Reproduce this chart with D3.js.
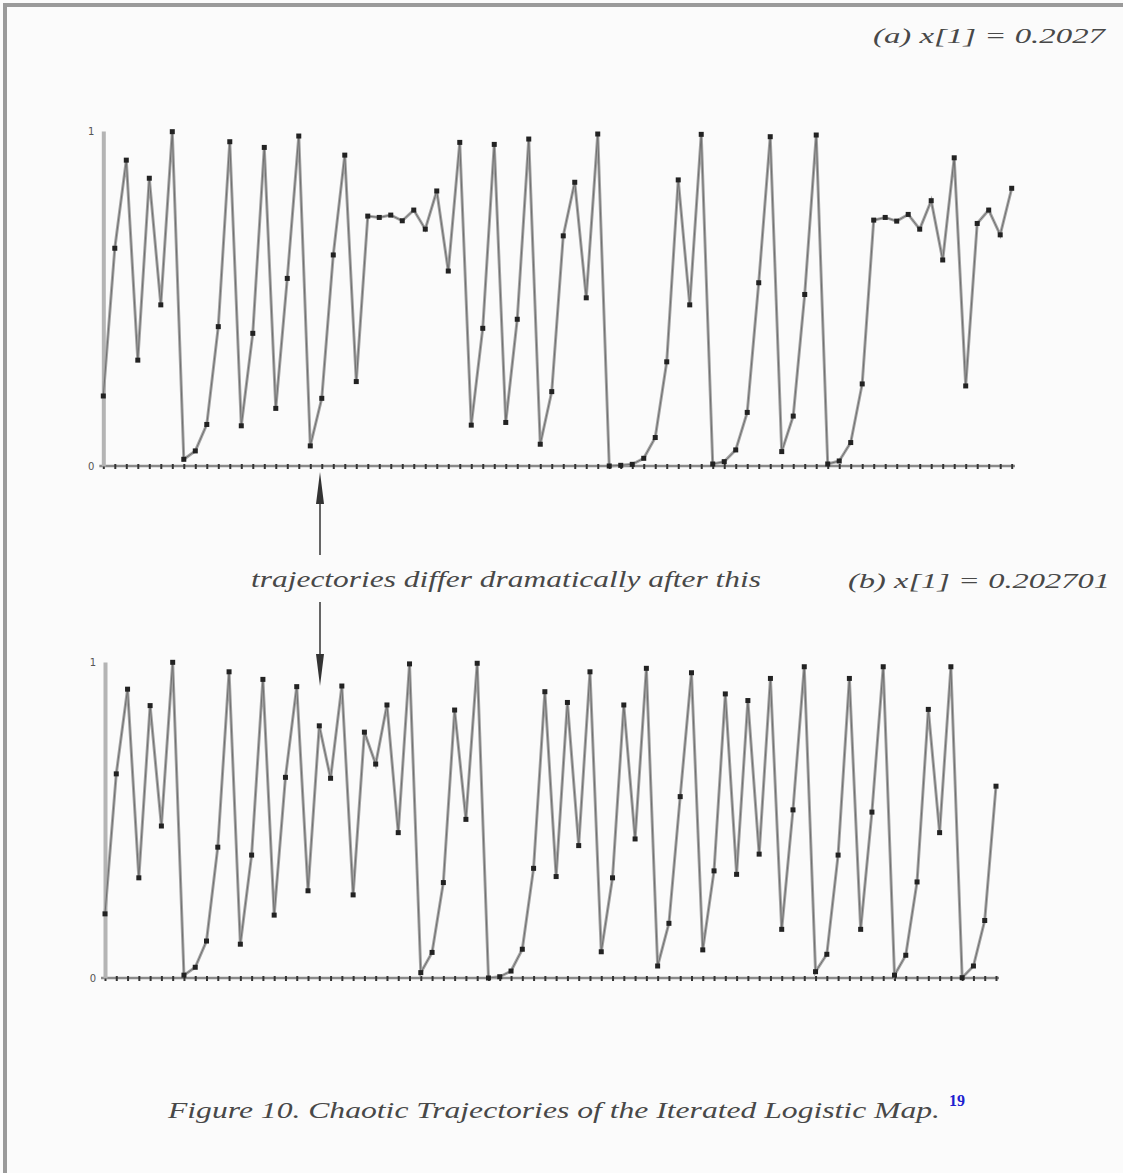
<!DOCTYPE html>
<html>
<head>
<meta charset="utf-8">
<script src="https://cdn.jsdelivr.net/npm/d3@7"></script>
<style>
  body { margin: 0; background: #fbfbfb; }
  svg { display: block; }
  .lbl { font-family: "Liberation Serif", "DejaVu Serif", serif; font-style: italic; fill: #484848; }
  .ytick text { font-family: "DejaVu Sans", sans-serif; font-size: 10px; fill: #555; }
</style>
</head>
<body>
<svg id="fig" width="1123" height="1173"></svg>
<script>
// values (80 iterations each)
var seriesA = [0.209,0.650,0.913,0.316,0.859,0.481,0.998,0.020,0.045,0.124,0.416,0.968,0.120,0.396,0.951,0.172,0.560,0.985,0.060,0.202,0.630,0.928,0.252,0.746,
  0.742,0.749,0.732,0.764,0.707,0.821,0.582,0.966,0.122,0.411,0.960,0.130,0.438,0.976,0.065,0.222,0.687,0.847,0.502,0.991,0.000,0.002,0.005,0.023,
  0.085,0.311,0.854,0.481,0.990,0.006,0.013,0.048,0.160,0.547,0.983,0.043,0.149,0.512,0.988,0.006,0.015,0.070,0.245,0.734,0.742,0.731,0.751,0.707,0.792,0.615,0.920,0.239,0.724,0.764,0.690,0.829];

var seriesB = [0.203,0.646,0.914,0.317,0.862,0.481,0.999,0.009,0.034,0.117,0.414,0.969,0.107,0.389,0.945,0.199,0.635,0.922,0.276,0.798,0.632,0.924,0.263,0.778,
  0.677,0.864,0.460,0.994,0.017,0.081,0.302,0.848,0.502,0.996,0.000,0.004,0.022,0.091,0.347,0.906,0.321,0.872,0.419,0.969,0.083,0.317,0.864,0.440,
  0.980,0.038,0.173,0.574,0.966,0.089,0.339,0.899,0.328,0.878,0.392,0.948,0.154,0.532,0.985,0.020,0.075,0.389,0.948,0.154,0.525,0.985,0.009,0.072,0.304,0.850,0.460,0.985,0.001,0.038,0.182,0.607];

var yTicks = [0, 1];
var titleA = "(a)  x[1]  =  0.2027";
var titleB = "(b)  x[1]  =  0.202701";
var noteText = "trajectories differ dramatically after this";
var captionText = "Figure 10.  Chaotic Trajectories of the Iterated Logistic Map.";
var captionRef = "19";

var svg = d3.select('#fig');

// scanned page frame
svg.append('path')
    .attr('d', 'M5,1173 L5,5 L1123,5')
    .attr('fill', 'none')
    .attr('stroke', '#9a9a9a')
    .attr('stroke-width', 4);

function drawPanel(data, x0, x1, yTop, yBot, axisEnd) {
    var n = data.length;
    var x = d3.scaleLinear().domain([1, n]).range([x0, x1]);
    var y = d3.scaleLinear().domain([0, 1]).range([yBot, yTop]);
    var g = svg.append('g');

    // x axis: dotted baseline, one tick per iteration
    var xAxis = d3.axisBottom(x)
        .tickValues(d3.range(1, n + 1))
        .tickFormat('')
        .tickSizeInner(3)
        .tickSizeOuter(0);
    var xa = g.append('g')
        .attr('transform', 'translate(0,' + yBot + ')')
        .call(xAxis);
    xa.select('.domain')
        .attr('d', 'M' + (x0 - 4) + ',0H' + axisEnd)
        .attr('stroke', '#8a8a8a')
        .attr('stroke-width', 2.5);
    xa.selectAll('.tick line')
        .attr('y1', -2)
        .attr('stroke', '#333')
        .attr('stroke-width', 2);

    // y axis: thick grey bar with 0 / 1 labels
    var yAxis = d3.axisLeft(y)
        .tickValues(yTicks)
        .tickFormat(d3.format('d'))
        .tickSize(0)
        .tickPadding(9);
    var ya = g.append('g')
        .attr('class', 'ytick')
        .attr('transform', 'translate(' + x0 + ',0)')
        .call(yAxis);
    ya.select('.domain')
        .attr('stroke', '#b4b4b4')
        .attr('stroke-width', 4);

    var line = d3.line()
        .x(function(d, i) { return x(i + 1); })
        .y(function(d) { return y(d); });

    g.append('path')
        .datum(data)
        .attr('d', line)
        .attr('fill', 'none')
        .attr('stroke', '#a6a6a6')
        .attr('stroke-width', 3);

    g.append('path')
        .datum(data)
        .attr('d', line)
        .attr('fill', 'none')
        .attr('stroke', '#707070')
        .attr('stroke-width', 1);

    g.selectAll('.pt')
        .data(data)
      .enter().append('rect')
        .attr('class', 'pt')
        .attr('x', function(d, i) { return x(i + 1) - 2.5; })
        .attr('y', function(d) { return y(d) - 2.5; })
        .attr('width', 5)
        .attr('height', 5)
        .attr('fill', '#222');
}

drawPanel(seriesA, 103.3, 1011.7, 131, 466, 1015);
drawPanel(seriesB, 105, 996, 662, 978, 999);

// titles
svg.append('text').attr('class', 'lbl')
    .attr('x', 873).attr('y', 43)
    .attr('font-size', 21)
    .attr('textLength', 232).attr('lengthAdjust', 'spacingAndGlyphs')
    .text(titleA);

svg.append('text').attr('class', 'lbl')
    .attr('x', 848).attr('y', 588)
    .attr('font-size', 21)
    .attr('textLength', 262).attr('lengthAdjust', 'spacingAndGlyphs')
    .text(titleB);

svg.append('text').attr('class', 'lbl')
    .attr('x', 251).attr('y', 587)
    .attr('font-size', 24)
    .attr('textLength', 510).attr('lengthAdjust', 'spacingAndGlyphs')
    .text(noteText);

// arrows
function arrow(xa, yFrom, yTip) {
    var dir = yTip < yFrom ? 1 : -1;
    svg.append('line')
        .attr('x1', xa).attr('x2', xa)
        .attr('y1', yFrom).attr('y2', yTip + dir * 20)
        .attr('stroke', '#666')
        .attr('stroke-width', 2);
    svg.append('path')
        .attr('d', 'M' + xa + ',' + yTip + 'L' + (xa - 4) + ',' + (yTip + dir * 32) + 'L' + (xa + 4) + ',' + (yTip + dir * 32) + 'Z')
        .attr('fill', '#333');
}
arrow(320, 555, 472);
arrow(320, 602, 686);

// caption
svg.append('text').attr('class', 'lbl')
    .attr('x', 168).attr('y', 1118)
    .attr('font-size', 24)
    .attr('textLength', 772).attr('lengthAdjust', 'spacingAndGlyphs')
    .text(captionText);

svg.append('text')
    .attr('x', 949).attr('y', 1106)
    .attr('font-family', '"Liberation Serif", serif')
    .attr('font-weight', 'bold')
    .attr('font-size', 16)
    .attr('fill', '#2020d0')
    .text(captionRef);
</script>
</body>
</html>
